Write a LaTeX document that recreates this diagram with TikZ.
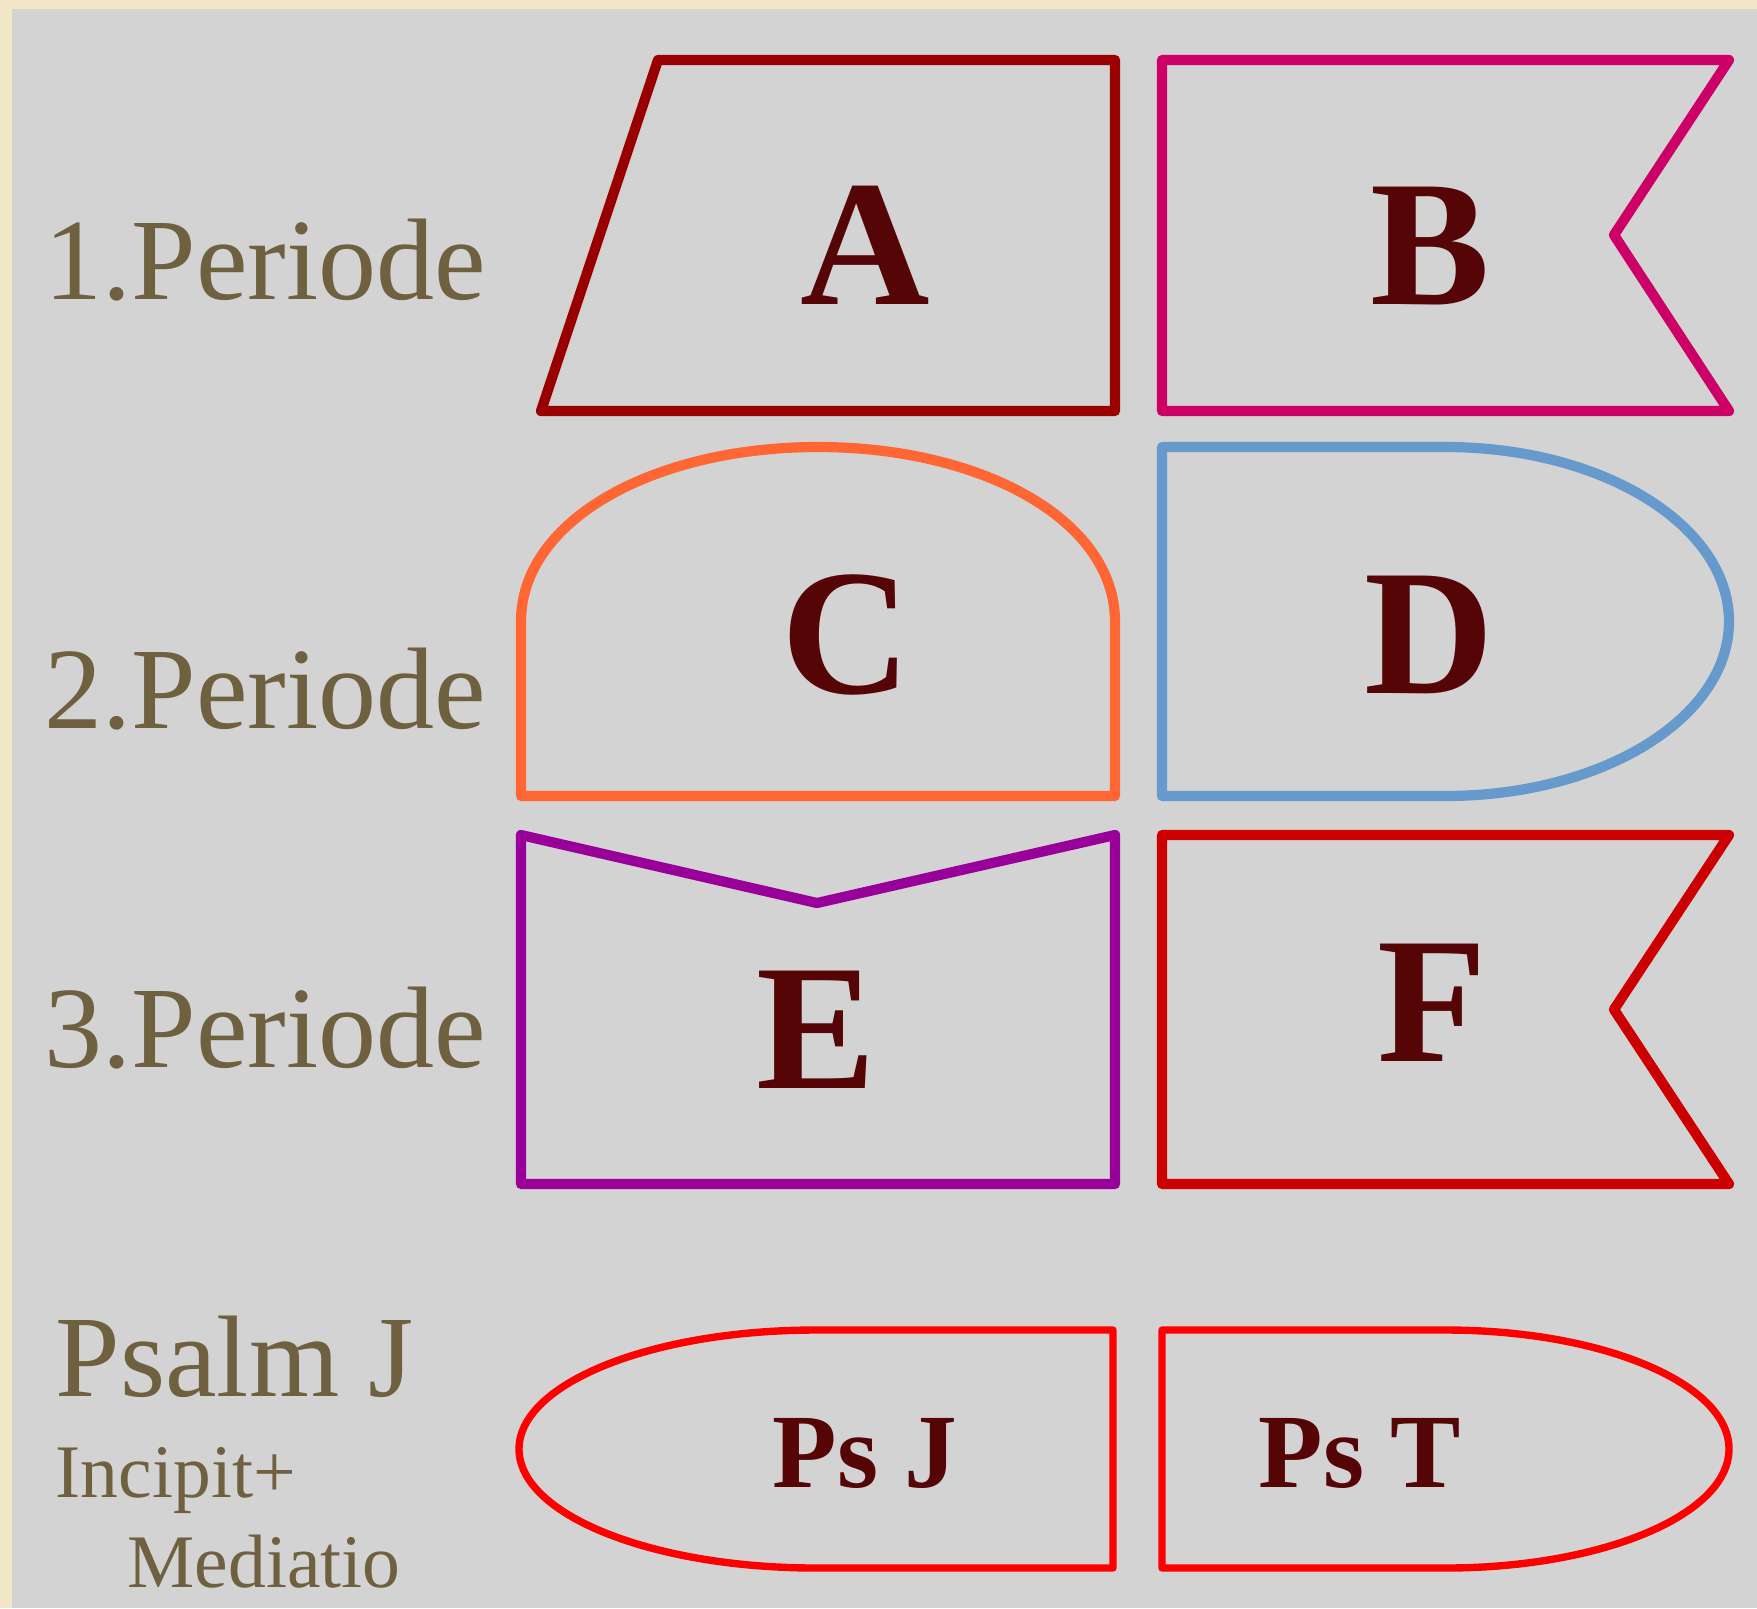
\documentclass[tikz,border=0pt]{standalone}
\usepackage{fontspec}
\setmainfont{Liberation Serif}
\usepackage{xcolor}
\usepackage{tikz}
\definecolor{fondgris}{HTML}{D3D3D3}
\definecolor{cadre}{HTML}{F2E7C6}
\definecolor{brunolive}{HTML}{6F6040}
\definecolor{lettre}{HTML}{550505}
\definecolor{rougeA}{HTML}{990000}
\definecolor{roseB}{HTML}{CC0066}
\definecolor{orangeC}{HTML}{FF6633}
\definecolor{bleuD}{HTML}{6699CC}
\definecolor{violetE}{HTML}{990099}
\definecolor{rougeF}{HTML}{CC0000}
\definecolor{rougePs}{HTML}{FF0000}
\tikzstyle{forme} = [line width=2.9pt, line join=round]
\tikzstyle{psforme} = [line width=2.1pt, line join=round]
\tikzstyle{grande} = [text=lettre, inner sep=0pt, anchor=base,
font=\bfseries\fontsize{51}{57}\selectfont]
\tikzstyle{petite} = [text=lettre, inner sep=0pt, anchor=base,
font=\bfseries\fontsize{30}{36}\selectfont]
\tikzstyle{periode} = [text=brunolive, inner sep=0pt, anchor=base west,
font=\fontsize{33}{39}\selectfont]
\tikzstyle{sous} = [text=brunolive, inner sep=0pt, anchor=base west,
font=\fontsize{21.5}{26}\selectfont]

\begin{document}
\begin{tikzpicture}[x=0.01cm, y=-0.01cm]
\useasboundingbox (0,0) rectangle (1757,1608);

% Fond
\fill[cadre] (0,0) rectangle (1757,1608);
\fill[fondgris] (12,9) rectangle (1757,1608);

% 1. Periode : trapeze et drapeau
\draw[forme, draw=rougeA] (658,60) -- (1115,60) -- (1115,411) -- (541,411) -- cycle;
\draw[forme, draw=roseB] (1162,60) -- (1729,60) -- (1614,235) -- (1729,411) -- (1162,411) -- cycle;

% 2. Periode : arc en haut, arc a droite
\draw[forme, draw=orangeC] (521,796) -- (521,621.5)
  .. controls (521,520) and (654,447) .. (818,447)
  .. controls (982,447) and (1115,520) .. (1115,621.5) -- (1115,796) -- cycle;
\draw[forme, draw=bleuD] (1162,447) -- (1445.5,447)
  .. controls (1602.1,447) and (1729,525.1) .. (1729,621.5)
  .. controls (1729,717.9) and (1602.1,796) .. (1445.5,796) -- (1162,796) -- cycle;

% 3. Periode : encoche en V et drapeau
\draw[forme, draw=violetE] (521,835) -- (817,903) -- (1115,835) -- (1115,1184) -- (521,1184) -- cycle;
\draw[forme, draw=rougeF] (1162,835) -- (1729,835) -- (1614,1009.5) -- (1729,1184) -- (1162,1184) -- cycle;

% Psalmformeln
\draw[psforme, draw=rougePs] (1113,1330) -- (816,1330)
  .. controls (652,1330) and (519,1383.3) .. (519,1449)
  .. controls (519,1514.7) and (652,1568) .. (816,1568) -- (1113,1568) -- cycle;
\draw[psforme, draw=rougePs] (1162,1330) -- (1445.5,1330)
  .. controls (1602.1,1330) and (1729,1383.3) .. (1729,1449)
  .. controls (1729,1514.7) and (1602.1,1568) .. (1445.5,1568) -- (1162,1568) -- cycle;

% Lettres dans les formes
\node[grande] (lettreA) at (865,304) {A};
\node[grande] (lettreB) at (1430,304) {B};
\node[grande] (lettreC) at (846,693) {C};
\node[grande] (lettreD) at (1429,693) {D};
\node[grande] (lettreE) at (816,1088) {E};
\node[grande] (lettreF) at (1432,1061) {F};
\node[petite] (psJ) at (865,1487) {Ps J};
\node[petite] (psT) at (1360,1487) {Ps T};

% Textes a gauche
\node[periode] (per1) at (44,299) {1.Periode};
\node[periode] (per2) at (44,728) {2.Periode};
\node[periode] (per3) at (44,1067) {3.Periode};
\node[periode] (psalm) at (55,1396) {Psalm J};
\node[sous] (incipit) at (55,1497) {Incipit+};
\node[sous] (mediatio) at (127,1587) {Mediatio};

\end{tikzpicture}
\end{document}
